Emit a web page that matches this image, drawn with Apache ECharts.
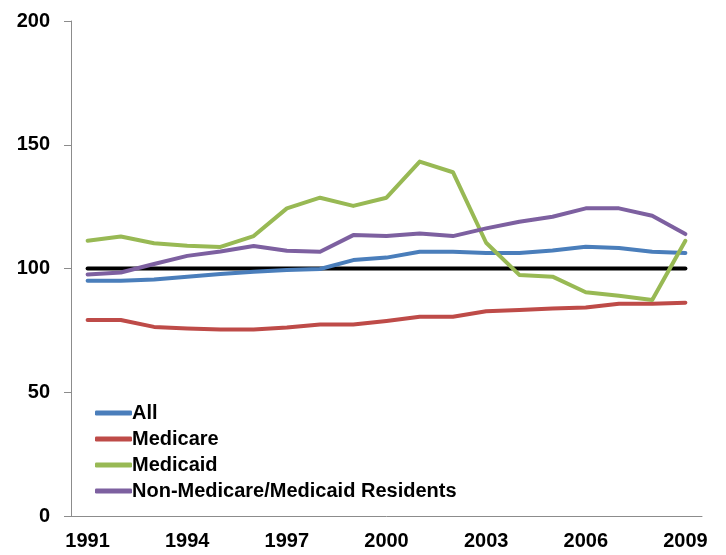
<!DOCTYPE html>
<html>
<head>
<meta charset="utf-8">
<script src="https://cdn.jsdelivr.net/npm/echarts@6/dist/echarts.min.js"></script>
<style>
  html, body { margin: 0; padding: 0; background: #fff; }
  #chart { width: 726px; height: 555px; }
</style>
</head>
<body>
<div id="chart"></div>
<script>
// 年份
const years = ['1991', '1992', '1993', '1994', '1995', '1996', '1997', '1998', '1999', '2000',
  '2001', '2002', '2003', '2004', '2005', '2006', '2007', '2008', '2009'];
const allValues = [95.1, 95.1, 95.6, 96.7, 97.8, 98.7, 99.4, 99.8, 103.4, 104.4,
  106.8, 106.8, 106.3, 106.3, 107.3, 108.8, 108.3, 106.8, 106.3];
const medicareValues = [79.2, 79.2, 76.4, 75.8, 75.4, 75.4, 76.2, 77.4, 77.4, 78.8,
  80.5, 80.5, 82.7, 83.2, 83.8, 84.2, 85.8, 85.8, 86.2];
const medicaidValues = [111.2, 112.9, 110.2, 109.2, 108.7, 113.1, 124.3, 128.6, 125.3, 128.6,
  143.2, 138.9, 110.4, 97.4, 96.7, 90.4, 89.0, 87.3, 111.2];
const otherValues = [97.6, 98.4, 101.8, 105.1, 106.9, 109.1, 107.2, 106.8, 113.5, 113.1,
  114.1, 113.1, 116.2, 118.9, 120.9, 124.3, 124.3, 121.3, 113.9];
const baseValues = years.map(() => 100);
const yTicks = { min: 0, max: 200, interval: 50 };

const fontFamily = '"Liberation Sans", Arial, sans-serif';
const axisColor = '#8c8c8c';

// 折线配置
function makeLine(name, data, color) {
  return {
    name,
    type: 'line',
    data,
    symbol: 'none',
    lineStyle: { color, width: 4, cap: 'round', join: 'round' },
    itemStyle: { color },
    emphasis: { disabled: true }
  };
}

const chart = echarts.init(document.getElementById('chart'));
chart.setOption({
  animation: false,
  grid: { left: 71, right: 24, top: 21, bottom: 39 },
  legend: {
    orient: 'vertical',
    left: 90,
    top: 398,
    icon: 'roundRect',
    itemWidth: 37,
    itemHeight: 5,
    itemGap: 6,
    data: ['All', 'Medicare', 'Medicaid', 'Non-Medicare/Medicaid Residents'],
    textStyle: { fontFamily, fontWeight: 'bold', fontSize: 20, color: '#000', padding: [0, 0, 0, -5] }
  },
  xAxis: {
    type: 'category',
    data: years,
    boundaryGap: true,
    axisLine: { lineStyle: { color: axisColor, width: 1 } },
    axisTick: { interval: 0, length: 7, lineStyle: { color: axisColor } },
    axisLabel: { interval: 2, margin: 15, fontFamily, fontWeight: 'bold', fontSize: 20, color: '#000' },
    splitLine: { show: false }
  },
  yAxis: {
    type: 'value',
    min: yTicks.min,
    max: yTicks.max,
    interval: yTicks.interval,
    axisLine: { show: true, lineStyle: { color: axisColor, width: 1 } },
    axisTick: { show: true, length: 7, lineStyle: { color: axisColor } },
    axisLabel: { margin: 21, fontFamily, fontWeight: 'bold', fontSize: 20, color: '#000' },
    splitLine: { show: false }
  },
  series: [
    makeLine('Base', baseValues, '#000000'),
    makeLine('All', allValues, '#4a7ebb'),
    makeLine('Medicare', medicareValues, '#be4b48'),
    makeLine('Medicaid', medicaidValues, '#98b954'),
    makeLine('Non-Medicare/Medicaid Residents', otherValues, '#7d60a0')
  ]
});
window.addEventListener('resize', () => chart.resize());
</script>
</body>
</html>
